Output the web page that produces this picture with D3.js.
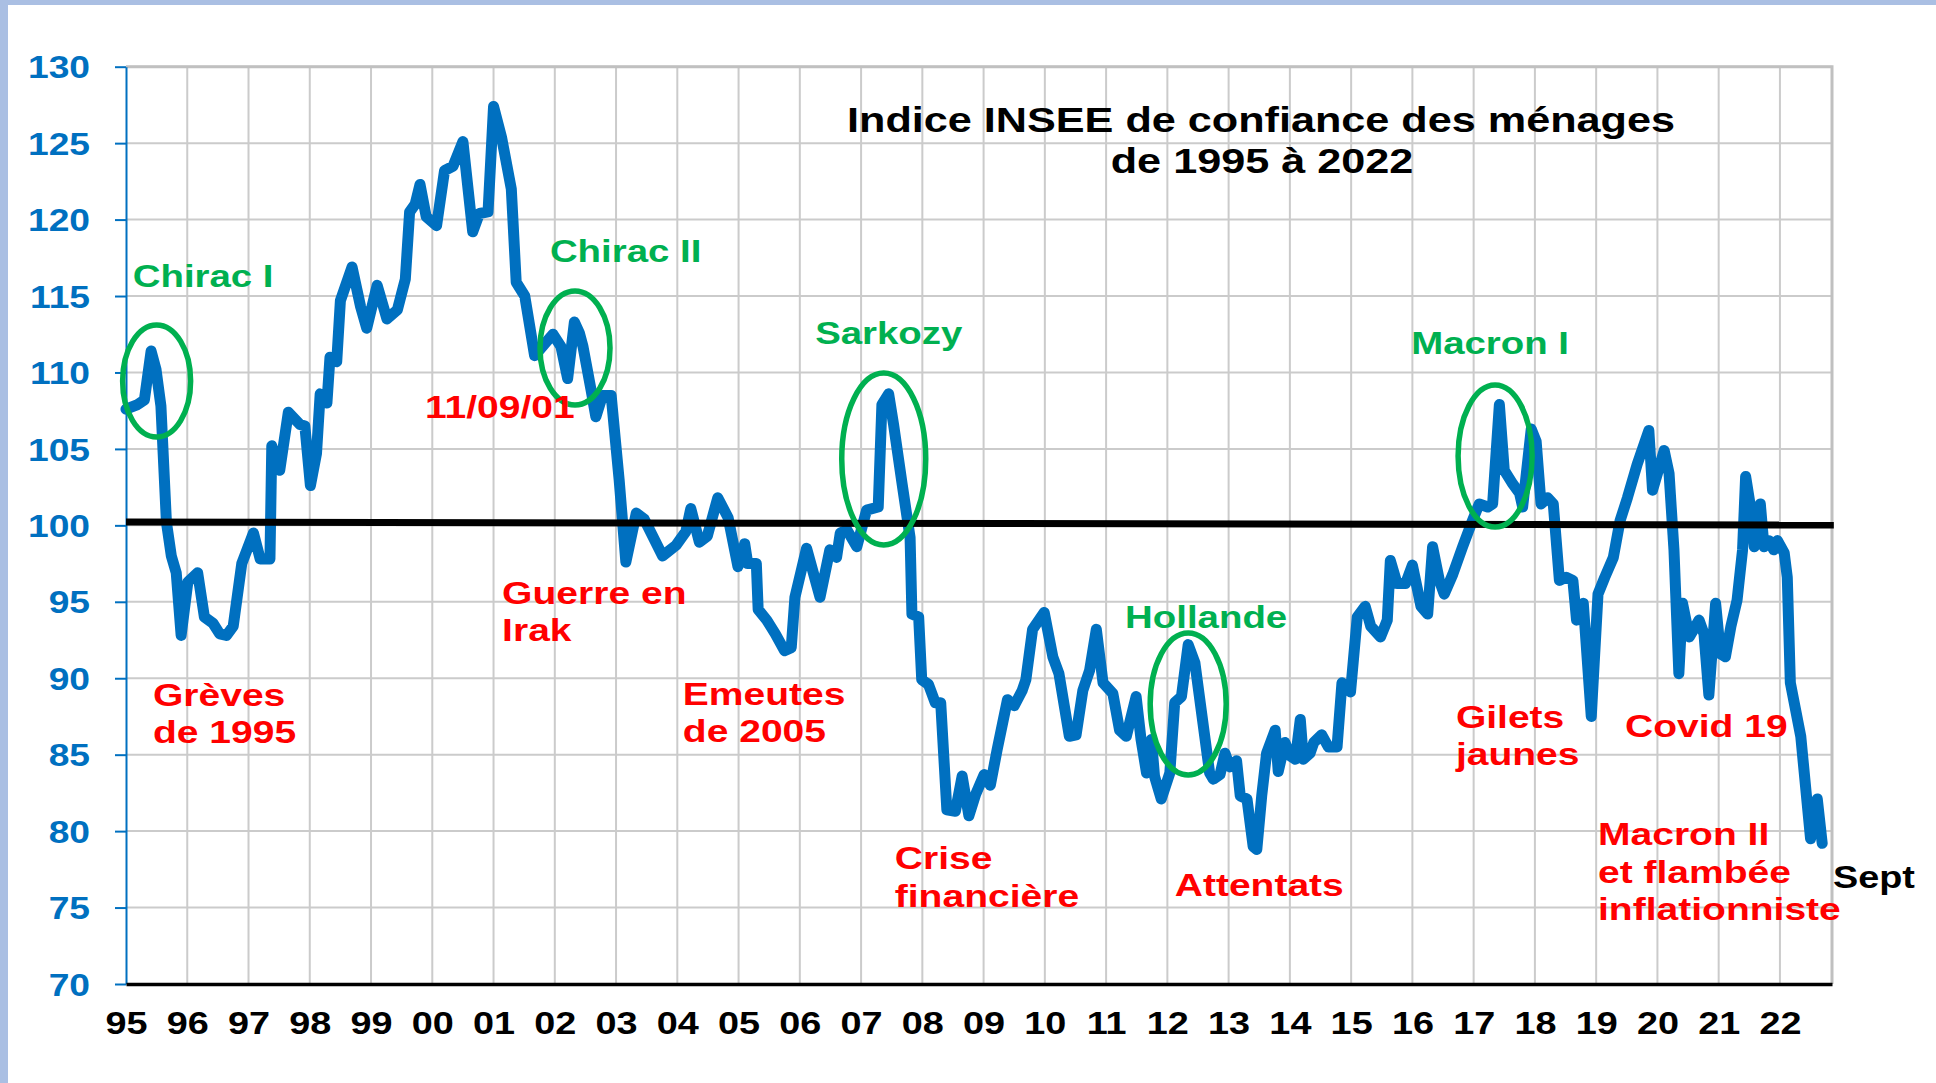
<!DOCTYPE html>
<html>
<head>
<meta charset="utf-8">
<script src="https://cdn.jsdelivr.net/npm/d3@7/dist/d3.min.js"></script>
<style>
  body { margin: 0; background: #fff; }
  svg { display: block; font-family: 'Liberation Sans', Arial, sans-serif; font-weight: bold; }
</style>
</head>
<body>
<div id="chart"></div>
<script>
// Indice INSEE de confiance des ménages (decimal year, index)
const years = [
  1995.00, 1995.19, 1995.30, 1995.41, 1995.49, 1995.57, 1995.66, 1995.74, 1995.82, 1995.90,
  1996.01, 1996.17, 1996.28, 1996.42, 1996.53, 1996.64, 1996.75, 1996.89,
  1997.08, 1997.19, 1997.35, 1997.38, 1997.51, 1997.65, 1997.84, 1997.92,
  1998.01, 1998.11, 1998.17, 1998.28, 1998.33, 1998.44, 1998.50, 1998.69, 1998.83, 1998.93,
  1999.10, 1999.26, 1999.43, 1999.56, 1999.63, 1999.72, 1999.80, 1999.90,
  2000.07, 2000.20, 2000.34, 2000.50, 2000.66, 2000.77, 2000.91,
  2001.00, 2001.13, 2001.29, 2001.37, 2001.51, 2001.67, 2001.97,
  2002.10, 2002.21, 2002.32, 2002.40, 2002.46, 2002.59, 2002.67, 2002.78, 2002.92,
  2003.05, 2003.16, 2003.33, 2003.46, 2003.76, 2003.98,
  2004.14, 2004.22, 2004.36, 2004.49, 2004.66, 2004.83, 2004.99,
  2005.10, 2005.15, 2005.29, 2005.32, 2005.46, 2005.60, 2005.75, 2005.86, 2005.92,
  2006.11, 2006.33, 2006.49, 2006.60, 2006.66, 2006.77, 2006.93,
  2007.09, 2007.28, 2007.34, 2007.45, 2007.53, 2007.67, 2007.80, 2007.83, 2007.94, 2007.99,
  2008.10, 2008.21, 2008.30, 2008.40, 2008.54, 2008.65, 2008.76, 2008.87,
  2009.01, 2009.11, 2009.22, 2009.39, 2009.50, 2009.63, 2009.69, 2009.80, 2009.99,
  2010.13, 2010.23, 2010.40, 2010.51, 2010.62, 2010.73, 2010.84, 2010.95,
  2011.11, 2011.22, 2011.33, 2011.49, 2011.57, 2011.66, 2011.74, 2011.79, 2011.90,
  2012.04, 2012.12, 2012.23, 2012.34, 2012.45, 2012.56, 2012.69, 2012.75, 2012.86, 2012.94,
  2013.02, 2013.13, 2013.19, 2013.30, 2013.40, 2013.46, 2013.54, 2013.62, 2013.76, 2013.81, 2013.92,
  2014.01, 2014.09, 2014.17, 2014.22, 2014.33, 2014.39, 2014.52, 2014.63, 2014.77, 2014.85, 2014.99,
  2015.10, 2015.23, 2015.32, 2015.48, 2015.59, 2015.64, 2015.75, 2015.89,
  2016.00, 2016.14, 2016.25, 2016.33, 2016.44, 2016.52, 2016.66, 2016.82, 2016.96,
  2017.09, 2017.23, 2017.31, 2017.42, 2017.50, 2017.64, 2017.75, 2017.80, 2017.94,
  2018.02, 2018.10, 2018.21, 2018.30, 2018.40, 2018.51, 2018.62, 2018.68, 2018.79, 2018.92,
  2019.03, 2019.14, 2019.28, 2019.39, 2019.51, 2019.67, 2019.86, 2019.92,
  2020.11, 2020.19, 2020.27, 2020.35, 2020.41, 2020.52, 2020.68, 2020.76, 2020.84, 2020.95,
  2021.03, 2021.11, 2021.20, 2021.30, 2021.39, 2021.44, 2021.52, 2021.58, 2021.68, 2021.74, 2021.82, 2021.90, 2021.96,
  2022.07, 2022.12, 2022.17, 2022.34, 2022.50, 2022.61, 2022.69
];
const indice = [
  107.6, 107.9, 108.2, 111.4, 110.2, 107.8, 100.2, 98.0, 96.9, 92.8,
  96.3, 96.9, 94.0, 93.6, 92.9, 92.8, 93.4, 97.5,
  99.5, 97.8, 97.8, 105.2, 103.6, 107.4, 106.6, 106.5,
  102.6, 104.7, 108.6, 108.0, 111.0, 110.7, 114.7, 116.9, 114.3, 112.9,
  115.7, 113.5, 114.1, 116.1, 120.5, 121.0, 122.3, 120.2,
  119.6, 123.2, 123.5, 125.1, 119.2, 120.4, 120.5,
  127.4, 125.4, 122.0, 115.9, 115.0, 111.1, 112.5,
  111.7, 109.6, 113.3, 112.6, 111.7, 108.9, 107.1, 108.5, 108.5,
  103.0, 97.6, 100.8, 100.4, 98.0, 98.7,
  99.6, 101.1, 98.9, 99.3, 101.8, 100.5, 97.3,
  98.8, 97.5, 97.5, 94.5, 93.8, 92.9, 91.8, 92.0, 95.3,
  98.5, 95.3, 98.4, 97.9, 99.5, 99.7, 98.6,
  101.0, 101.2, 107.9, 108.6, 106.6, 102.7, 99.2, 94.2, 94.0, 89.9,
  89.6, 88.4, 88.4, 81.4, 81.3, 83.6, 81.0, 82.4,
  83.7, 83.0, 85.3, 88.6, 88.2, 89.2, 89.9, 93.2, 94.3,
  91.4, 90.3, 86.2, 86.3, 89.2, 90.5, 93.2, 89.7,
  89.0, 86.6, 86.2, 88.8, 86.0, 83.8, 86.0, 83.6, 82.1,
  83.8, 88.4, 88.8, 92.2, 91.0, 87.7, 83.8, 83.4, 83.7, 85.1,
  84.2, 84.6, 82.3, 82.1, 79.0, 78.8, 82.3, 85.1, 86.6, 83.9, 85.8,
  84.9, 84.7, 87.3, 84.7, 85.1, 85.8, 86.3, 85.5, 85.5, 89.7, 89.1,
  94.0, 94.7, 93.4, 92.7, 93.8, 97.7, 96.2, 96.2,
  97.4, 94.7, 94.2, 98.6, 96.4, 95.5, 96.8, 98.6, 100.1,
  101.4, 101.2, 101.4, 107.9, 103.6, 102.7, 102.1, 101.2, 106.3,
  105.5, 101.4, 101.8, 101.4, 96.4, 96.6, 96.4, 93.8, 94.9, 87.5,
  95.5, 96.6, 97.9, 100.3, 101.8, 104.0, 106.2, 102.3,
  104.9, 103.4, 98.4, 90.3, 94.9, 92.7, 93.8, 92.9, 88.9, 94.9,
  91.6, 91.4, 93.4, 95.1, 98.4, 103.2, 101.2, 98.6, 101.4, 98.6, 99.0, 98.4, 99.0,
  98.2, 96.6, 89.7, 86.2, 79.5, 82.1, 79.2
];

// axis ticks
const yTicks = d3.range(70, 131, 5);
const yearTicks = d3.range(1995, 2023);
const yearLabels = yearTicks.map(d => String(d % 100).padStart(2, '0'));

// the hand drawn "100" line is slightly sloped
const refYears = [1995, 2022.88];
const refLevel = [100.22, 100.02];

// annotations (anchor = left end of first baseline, in data units)
const events = [
  { lines: ['Grèves', 'de 1995'], year: 1995.44, v: 88.19 },
  { lines: ['11/09/01'], year: 1999.88, v: 107.02 },
  { lines: ['Guerre en', 'Irak'], year: 2001.14, v: 94.86 },
  { lines: ['Emeutes', 'de 2005'], year: 2004.09, v: 88.25 },
  { lines: ['Crise', 'financière'], year: 2007.55, v: 77.52 },
  { lines: ['Attentats'], year: 2012.12, v: 75.76 },
  { lines: ['Gilets', 'jaunes'], year: 2016.71, v: 86.75 },
  { lines: ['Covid 19'], year: 2019.47, v: 86.16 },
  { lines: ['Macron II', 'et flambée', 'inflationniste'], year: 2019.03, v: 79.09 }
];
const presidents = [
  { name: 'Chirac I', year: 1995.11, v: 115.58 },
  { name: 'Chirac II', year: 2001.92, v: 117.23 },
  { name: 'Sarkozy', year: 2006.25, v: 111.86 },
  { name: 'Hollande', year: 2011.31, v: 93.29 },
  { name: 'Macron I', year: 2015.98, v: 111.21 }
];
const circles = [
  { year: 1995.50, v: 109.44, rx: 34, ry: 56 },
  { year: 2002.33, v: 111.60, rx: 35, ry: 57 },
  { year: 2007.37, v: 104.34, rx: 42, ry: 86 },
  { year: 2012.34, v: 88.32, rx: 38, ry: 71 },
  { year: 2017.35, v: 104.53, rx: 37, ry: 71 }
];

const width = 1936;
const height = 1083;
const margin = { top: 66.7, right: 104, bottom: 99, left: 126 };
const blue = '#0070c0';
const green = '#00b050';
const red = '#ff0000';

const svg = d3.select('#chart').append('svg')
  .attr('width', width)
  .attr('height', height);

// light blue frame on the top and left
svg.append('rect').attr('x', 0).attr('y', 0).attr('width', width).attr('height', 5).attr('fill', '#aabfe3');
svg.append('rect').attr('x', 0).attr('y', 0).attr('width', 8).attr('height', height).attr('fill', '#aabfe3');

const x = d3.scaleLinear().domain([1995, 2022.85]).range([margin.left, width - margin.right]);
const y = d3.scaleLinear().domain([70, 130]).range([height - margin.bottom, margin.top]);

// stretched bold text, like the source picture
function label(g, px, py, text, size, color, stretch, anchor) {
  return g.append('text')
    .attr('transform', `translate(${px},${py}) scale(${stretch},1)`)
    .attr('text-anchor', anchor || 'start')
    .attr('fill', color)
    .style('font-size', `${size}px`)
    .text(text);
}

// grid
const grid = svg.append('g').attr('stroke', '#cbcbcb').attr('stroke-width', 2);
grid.selectAll('line.h')
  .data(yTicks.filter(d => d > 70))
  .enter().append('line')
  .attr('x1', x(1995)).attr('x2', x.range()[1])
  .attr('y1', d => y(d)).attr('y2', d => y(d));
grid.selectAll('line.v')
  .data(yearTicks.slice(1))
  .enter().append('line')
  .attr('x1', d => x(d)).attr('x2', d => x(d))
  .attr('y1', y(130)).attr('y2', y(70));
// plot frame top / right
svg.append('path')
  .attr('d', `M${x(1995)},${y(130)}H${x.range()[1]}V${y(70)}`)
  .attr('fill', 'none').attr('stroke', '#c0c0c0').attr('stroke-width', 3);

// y axis
const yAxis = svg.append('g')
  .attr('transform', `translate(${margin.left},0)`)
  .call(d3.axisLeft(y).tickValues(yTicks).tickSize(11).tickSizeOuter(0).tickPadding(0));
yAxis.select('.domain').attr('stroke', blue).attr('stroke-width', 2);
yAxis.selectAll('.tick line').attr('stroke', blue).attr('stroke-width', 2);
yAxis.selectAll('.tick text')
  .attr('fill', blue)
  .attr('x', -30)
  .attr('dy', '0.36em')
  .attr('transform', 'scale(1.2,1)')
  .style('font-size', '31px')
  .style('font-family', null);

// x axis
const xAxis = svg.append('g')
  .attr('transform', `translate(0,${y(70)})`)
  .call(d3.axisBottom(x).tickValues(yearTicks).tickFormat((d, i) => yearLabels[i])
    .tickSize(0).tickSizeOuter(0));
xAxis.select('.domain').attr('stroke', '#000').attr('stroke-width', 3.5);
xAxis.selectAll('.tick text')
  .attr('fill', '#000')
  .attr('y', 50)
  .attr('dy', null)
  .attr('transform', 'scale(1.2,1)')
  .style('font-size', '31.5px')
  .style('font-family', null);

// index line
const line = d3.line()
  .x(i => x(years[i]))
  .y(i => y(indice[i]));
svg.append('path')
  .datum(d3.range(years.length))
  .attr('d', line)
  .attr('fill', 'none')
  .attr('stroke', blue)
  .attr('stroke-width', 11)
  .attr('stroke-linejoin', 'round')
  .attr('stroke-linecap', 'round');

// 100 line
svg.append('line')
  .attr('x1', x(refYears[0])).attr('y1', y(refLevel[0]))
  .attr('x2', x(refYears[1])).attr('y2', y(refLevel[1]))
  .attr('stroke', '#000').attr('stroke-width', 7);

// green ellipses
svg.selectAll('ellipse.pres')
  .data(circles)
  .enter().append('ellipse')
  .attr('cx', d => x(d.year)).attr('cy', d => y(d.v))
  .attr('rx', d => d.rx).attr('ry', d => d.ry)
  .attr('fill', 'none').attr('stroke', green).attr('stroke-width', 5.5);

const notes = svg.append('g');
presidents.forEach((d) => {
  label(notes, x(d.year), y(d.v), d.name, 32, green, 1.2);
});
events.forEach((d) => {
  d.lines.forEach((t, k) => {
    label(notes, x(d.year), y(d.v) + k * 37.5, t, 30.5, red, 1.28);
  });
});
label(notes, 1833, 888, 'Sept', 31, '#000', 1.22);

// title
label(svg, 1261, 132, 'Indice INSEE de confiance des ménages', 36, '#000', 1.2, 'middle');
label(svg, 1262, 173, 'de 1995 à 2022', 36, '#000', 1.2, 'middle');
</script>
</body>
</html>
